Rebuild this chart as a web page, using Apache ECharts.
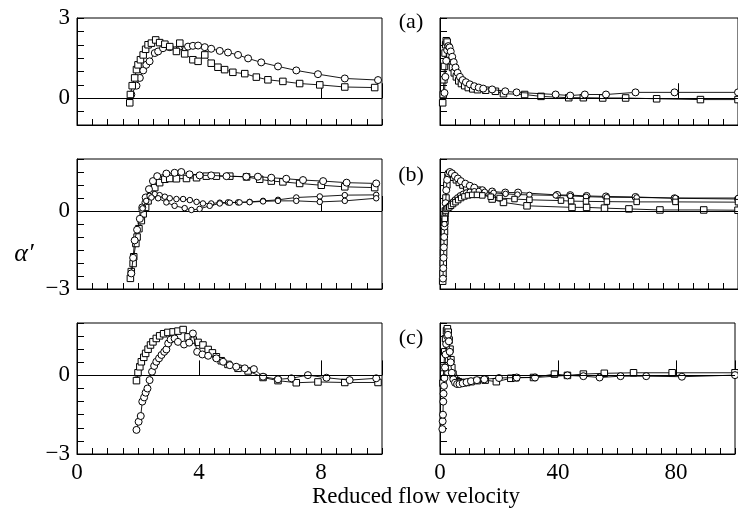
<!DOCTYPE html>
<html><head><meta charset="utf-8">
<script src="https://cdn.jsdelivr.net/npm/echarts@6/dist/echarts.min.js"></script>
<style>html,body{margin:0;padding:0;background:#fff}#c{width:738px;height:514px}</style>
</head><body><div id="c"></div>
<script>
// ---------- tick labels ----------
const xLabelsLeft = [0, 4, 8];
const xLabelsRight = [0, 40, 80];
const yLabelsA = [0, 3];
const yLabelsBC = [-3, 0];
const panelTags = ['(a)', '(b)', '(c)'];

// ---------- panel (a), left: x 0-10 ----------
const aLeftCirc = [[1.78,0.14],[1.95,0.47],[2.06,0.76],[2.17,1.04],[2.27,1.25],[2.38,1.38],[2.55,1.69],[2.66,1.75],[2.82,1.87],[3.04,1.91],[3.37,1.93],[3.64,1.93],[3.80,1.96],[3.97,1.97],[4.19,1.91],[4.40,1.85],[4.68,1.77],[4.95,1.71],[5.28,1.62],[5.61,1.49],[6.04,1.34],[6.59,1.19],[7.19,1.04],[7.90,0.90],[8.78,0.74],[9.87,0.68]];
const aLeftSq = [[1.73,-0.17],[1.75,0.14],[1.81,0.47],[1.89,0.76],[1.95,1.07],[2.00,1.25],[2.08,1.44],[2.17,1.62],[2.25,1.83],[2.33,2.00],[2.44,2.06],[2.58,2.18],[2.71,2.08],[2.88,2.02],[3.04,1.93],[3.26,1.75],[3.37,2.06],[3.53,1.66],[3.80,1.44],[3.97,1.38],[4.19,1.62],[4.40,1.31],[4.62,1.16],[4.84,1.07],[5.11,0.97],[5.50,0.92],[5.88,0.79],[6.26,0.69],[6.75,0.63],[7.30,0.55],[7.96,0.50],[8.78,0.42],[9.76,0.40]];
// ---------- panel (a), right: x 0-100 ----------
const aRightSq = [[0.9,-0.17],[1.1,0.14],[1.3,0.69],[1.5,1.19],[1.7,1.69],[1.9,2.0],[2.1,2.15],[2.4,2.1],[2.8,1.9],[3.2,1.65],[3.7,1.4],[4.2,1.15],[4.8,0.95],[5.5,0.8],[6.3,0.65],[7.2,0.55],[8.3,0.47],[9.5,0.4],[11,0.35],[12.6,0.32],[15.3,0.3],[18.6,0.26],[21.3,0.17],[28.4,0.14],[33.9,0.07],[43.2,0.02],[48.1,0.02],[54.6,0.01],[62.3,0.01],[72.7,-0.02],[87.4,-0.05],[100,-0.05]];
const aRightCirc = [[1.5,0.2],[1.8,0.8],[2.1,1.4],[2.4,1.8],[2.8,1.95],[3.2,1.9],[3.6,1.75],[4.1,1.55],[4.6,1.35],[5.2,1.15],[5.9,0.95],[6.7,0.8],[7.6,0.68],[8.7,0.6],[10,0.52],[11.5,0.45],[13,0.4],[14.5,0.36],[17.5,0.33],[21.9,0.26],[25.7,0.22],[38.8,0.14],[43.7,0.1],[48.6,0.14],[55.7,0.14],[65.6,0.22],[78.7,0.22],[100,0.22]];

// ---------- panel (b), left ----------
const bLeftSq = [[1.75,-2.59],[1.78,-2.33],[1.84,-2.02],[1.86,-1.76],[1.93,-1.25],[1.97,-1.0],[2.03,-0.68],[2.11,-0.37],[2.17,-0.11],[2.25,0.14],[2.33,0.39],[2.44,0.65],[2.55,0.90],[2.71,1.09],[2.88,1.22],[3.04,1.25],[3.26,1.24],[3.59,1.25],[3.92,1.28],[4.24,1.34],[4.57,1.34],[5.01,1.34],[5.56,1.31],[5.99,1.22],[6.37,1.15],[6.75,1.12],[7.30,1.06],[8.01,0.99],[8.78,0.93],[9.76,0.90]];
const bLeftCirc = [[1.78,-2.4],[1.84,-1.8],[1.89,-1.13],[1.97,-0.72],[2.06,-0.30],[2.14,0.14],[2.25,0.52],[2.36,0.84],[2.49,1.15],[2.63,1.34],[2.93,1.44],[3.2,1.47],[3.42,1.5],[3.69,1.41],[4.02,1.37],[4.4,1.37],[4.9,1.34],[5.55,1.32],[5.93,1.32],[6.37,1.28],[6.86,1.24],[7.41,1.19],[8.07,1.15],[8.84,1.09],[9.81,1.06]];
const bLeftLow1 = [[2.12,0.05],[2.22,0.33],[2.38,0.58],[2.55,0.65],[2.71,0.61],[2.88,0.55],[3.04,0.49],[3.26,0.46],[3.48,0.46],[3.70,0.42],[3.92,0.35],[4.13,0.29],[4.4,0.29],[4.68,0.32],[4.95,0.33],[5.28,0.33],[5.66,0.35],[6.1,0.39],[6.59,0.43],[7.19,0.52],[7.96,0.56],[8.78,0.61],[9.81,0.62]];
const bLeftLow2 = [[2.15,0.1],[2.27,0.39],[2.44,0.52],[2.66,0.49],[2.93,0.33],[3.2,0.2],[3.53,0.11],[3.75,0.04],[4.02,0.08],[4.35,0.2],[4.68,0.29],[5.01,0.32],[5.33,0.33],[5.66,0.34],[6.1,0.37],[6.59,0.39],[7.19,0.39],[7.96,0.35],[8.78,0.39],[9.81,0.49]];
// ---------- panel (b), right ----------
const bRightCirc = [[1.0,-2.6],[1.1,-2.2],[1.2,-1.8],[1.3,-1.4],[1.4,-1.0],[1.5,-0.6],[1.7,-0.2],[1.9,0.3],[2.1,0.8],[2.4,1.2],[2.8,1.45],[3.3,1.5],[4,1.45],[5,1.35],[6,1.25],[7,1.15],[8.5,1.05],[10,0.97],[11.5,0.9],[14.2,0.8],[17.5,0.75],[21.9,0.71],[26.2,0.71],[39.3,0.62],[43.7,0.61],[49.2,0.58],[55.7,0.56],[65.6,0.54],[78.7,0.49],[100,0.46]];
const bRightSq = [[0.9,-2.7],[1.0,-2.4],[1.1,-2.0],[1.2,-1.6],[1.35,-1.2],[1.5,-0.8],[1.65,-0.4],[1.8,0],[2.0,0.5],[2.3,1.0],[2.7,1.3],[3.2,1.42],[3.8,1.4],[4.6,1.3],[5.5,1.2],[6.5,1.1],[7.7,1.0],[9,0.92],[10.5,0.85],[12.6,0.8],[14.2,0.71],[17.5,0.46],[21.3,0.33],[29.2,0.2],[44.3,0.14],[49.2,0.14],[55.2,0.11],[63.4,0.08],[73.8,0.04],[88.5,0.04],[100,0.03]];
const bRightLow1 = [[1.5,-0.5],[1.8,-0.1],[2.1,0.1],[2.5,0.15],[3,0.2],[3.6,0.28],[4.3,0.36],[5,0.44],[5.8,0.52],[6.7,0.6],[7.7,0.66],[8.8,0.71],[10,0.74],[11.5,0.76],[13,0.77],[15,0.74],[18,0.7],[22,0.66],[26,0.63],[30,0.62],[38.8,0.6],[43.7,0.58],[49,0.55],[56,0.53],[66,0.52],[79,0.5],[100,0.5]];
const bRightLow2 = [[1.6,-0.3],[1.9,0.0],[2.2,0.08],[2.6,0.1],[3.1,0.14],[3.7,0.2],[4.4,0.27],[5.2,0.34],[6.1,0.42],[7.1,0.5],[8.2,0.56],[9.4,0.6],[10.8,0.62],[12.4,0.62],[14.2,0.6],[17,0.55],[20,0.5],[25,0.46],[30,0.43],[40.6,0.4],[44,0.38],[49,0.37],[56,0.36],[66,0.35],[79,0.35],[100,0.34]];

// ---------- panel (c), left ----------
const cLeftSq = [[1.95,-0.2],[2.0,0.1],[2.06,0.33],[2.11,0.52],[2.19,0.69],[2.25,0.84],[2.33,1.0],[2.41,1.16],[2.49,1.28],[2.6,1.41],[2.71,1.51],[2.84,1.59],[2.98,1.64],[3.15,1.66],[3.31,1.69],[3.48,1.75],[3.64,1.47],[3.81,1.35],[3.97,1.26],[4.13,1.16],[4.3,0.99],[4.44,0.86],[4.57,0.71],[4.73,0.56],[4.95,0.42],[5.28,0.27],[5.61,0.17],[6.1,-0.08],[6.59,-0.2],[7.19,-0.28],[7.9,-0.25],[8.78,-0.27],[9.87,-0.27]];
const cLeftCirc = [[1.95,-2.08],[2.02,-1.77],[2.09,-1.55],[2.14,-1.0],[2.2,-0.84],[2.25,-0.66],[2.31,-0.5],[2.38,-0.18],[2.46,0.14],[2.53,0.36],[2.6,0.52],[2.69,0.65],[2.77,0.78],[2.86,0.9],[2.93,0.99],[2.99,1.22],[3.07,1.37],[3.2,1.41],[3.31,1.28],[3.51,1.18],[3.68,1.25],[3.8,1.6],[3.94,0.9],[4.11,0.8],[4.3,0.75],[4.57,0.65],[4.79,0.52],[5.01,0.39],[5.22,0.33],[5.5,0.27],[5.8,0.24],[6.1,-0.05],[6.59,-0.15],[7.03,-0.11],[7.57,0.01],[8.18,-0.09],[8.94,-0.18],[9.81,-0.11]];
// ---------- panel (c), right ----------
const cRightSq = [[1.0,-0.3],[1.3,0.3],[1.6,0.9],[1.9,1.4],[2.2,1.7],[2.5,1.78],[2.8,1.65],[3.1,1.35],[3.4,1.0],[3.7,0.6],[4.0,0.3],[4.4,0.05],[4.9,-0.12],[5.5,-0.2],[6.2,-0.24],[7,-0.27],[8,-0.28],[9,-0.27],[10.5,-0.24],[12.6,-0.2],[15.3,-0.18],[19.1,-0.24],[24,-0.11],[25.7,-0.09],[31.7,-0.08],[38.8,0.05],[43.2,0],[48.6,0.05],[55.7,0.08],[65.6,0.1],[78.7,0.1],[100,0.1]];
const cRightCirc = [[0.8,-2.05],[0.9,-1.75],[1.0,-1.5],[1.1,-1.0],[1.2,-0.7],[1.35,-0.4],[1.5,-0.1],[1.7,0.3],[1.9,0.8],[2.1,1.2],[2.4,1.5],[2.7,1.55],[3.0,1.3],[3.3,0.9],[3.6,0.5],[4.0,0.1],[4.5,-0.15],[5.1,-0.28],[5.8,-0.33],[6.6,-0.33],[7.7,-0.3],[9,-0.26],[10.5,-0.22],[12.5,-0.18],[15,-0.15],[20,-0.1],[26,-0.08],[32.2,-0.08],[43.2,0],[48.6,-0.03],[54.1,-0.08],[61.2,-0.03],[69.9,-0.03],[82,-0.05],[100,0.01]];

// ---------- layout ----------
const FONT = 'Liberation Serif';
const FS = 23;
const rows = [
  {top: 18, height: 107, min: -1, max: 3, labels: yLabelsA, tallL: 8, tallR: 80},
  {top: 159, height: 130, min: -3, max: 2, labels: yLabelsBC, tallL: 8, tallR: 80},
  {top: 323, height: 131, min: -3, max: 2, labels: yLabelsBC, tallL: 4, tallR: 40}
];
const cols = [
  {left: 77, width: 305, max: 10, interval: 0.5, labels: xLabelsLeft},
  {left: 440, width: 305, max: 100, interval: 5, labels: xLabelsRight}
];
const panelSeries = [
  [[{d: aLeftCirc, s: 'circle'}, {d: aLeftSq, s: 'rect'}], [{d: aRightSq, s: 'rect'}, {d: aRightCirc, s: 'circle'}]],
  [[{d: bLeftSq, s: 'rect'}, {d: bLeftCirc, s: 'circle'}, {d: bLeftLow1, s: 'circle', z: 5}, {d: bLeftLow2, s: 'circle', z: 5}],
   [{d: bRightSq, s: 'rect'}, {d: bRightCirc, s: 'circle'}, {d: bRightLow1, s: 'circle', z: 5}, {d: bRightLow2, s: 'rect', z: 5}]],
  [[{d: cLeftSq, s: 'rect'}, {d: cLeftCirc, s: 'circle'}], [{d: cRightSq, s: 'rect'}, {d: cRightCirc, s: 'circle'}]]
];

const fmtNum = v => v < 0 ? '\u2212' + (-v) : String(v);
const grid = [], xAxis = [], yAxis = [], series = [];
rows.forEach((r, ri) => {
  cols.forEach((c, ci) => {
    const g = grid.length;
    grid.push({left: c.left, top: r.top, width: c.width, height: r.height, show: true,
      borderColor: '#000', borderWidth: 1, backgroundColor: 'transparent', containLabel: false});
    const tall = ci === 0 ? r.tallL : r.tallR;
    xAxis.push({gridIndex: g, type: 'value', min: 0, max: c.max, interval: c.interval, position: 'bottom',
      axisLine: {show: true, onZero: false, lineStyle: {color: '#000', width: 1}},
      axisTick: {show: true, inside: true, length: 6, lineStyle: {color: '#000', width: 1}},
      axisLabel: {show: ri === 2, margin: 7, color: '#000', fontFamily: FONT, fontSize: FS,
        formatter: v => c.labels.indexOf(v) >= 0 ? fmtNum(v) : ''},
      splitLine: {show: false}});
    xAxis.push({gridIndex: g, type: 'value', min: 0, max: c.max, interval: tall, position: 'bottom',
      axisLine: {show: false}, axisLabel: {show: false}, splitLine: {show: false},
      axisTick: {show: true, inside: true, length: 15, lineStyle: {color: '#000', width: 1}}});
    yAxis.push({gridIndex: g, type: 'value', min: r.min, max: r.max, interval: 0.5, position: 'left',
      axisLine: {show: true, onZero: false, lineStyle: {color: '#000', width: 1}},
      axisTick: {show: true, inside: true, length: 7, lineStyle: {color: '#000', width: 1}},
      axisLabel: {show: ci === 0, margin: 7, color: '#000', fontFamily: FONT, fontSize: FS,
        formatter: v => r.labels.indexOf(v) >= 0 ? fmtNum(v) : ''},
      splitLine: {show: false}});
    panelSeries[ri][ci].forEach((sp, k) => {
      const small = sp.z === 5;
      series.push({type: 'line', xAxisIndex: 2 * g, yAxisIndex: g, data: sp.d,
        symbol: sp.s, symbolSize: small ? 5.5 : (sp.s === 'rect' ? 6.5 : 7), showAllSymbol: true,
        itemStyle: {color: '#fff', borderColor: '#000', borderWidth: 1},
        lineStyle: {color: '#000', width: 0.9}, z: 3 + k, silent: true, animation: false,
        markLine: k === 0 ? {silent: true, symbol: 'none', label: {show: false}, animation: false,
          lineStyle: {color: '#000', width: 1, type: 'solid'}, data: [{yAxis: 0}]} : undefined});
    });
  });
});

const graphic = [];
panelTags.forEach((t, i) => {
  graphic.push({type: 'text', x: 411, y: [22, 175, 338][i],
    style: {text: t, fill: '#000', font: FS - 1 + 'px "' + FONT + '"', align: 'center', verticalAlign: 'middle'}});
});
graphic.push({type: 'text', x: 24, y: 254,
  style: {text: '\u03b1\u2032', fill: '#000', font: 'italic 26px "' + FONT + '"', align: 'center', verticalAlign: 'middle'}});
graphic.push({type: 'text', x: 416, y: 497,
  style: {text: 'Reduced flow velocity', fill: '#000', font: FS + 'px "' + FONT + '"', align: 'center', verticalAlign: 'middle'}});

const chart = echarts.init(document.getElementById('c'), null, {renderer: 'canvas'});
chart.setOption({animation: false, backgroundColor: '#fff', grid, xAxis, yAxis, series, graphic});
</script>
</body></html>
